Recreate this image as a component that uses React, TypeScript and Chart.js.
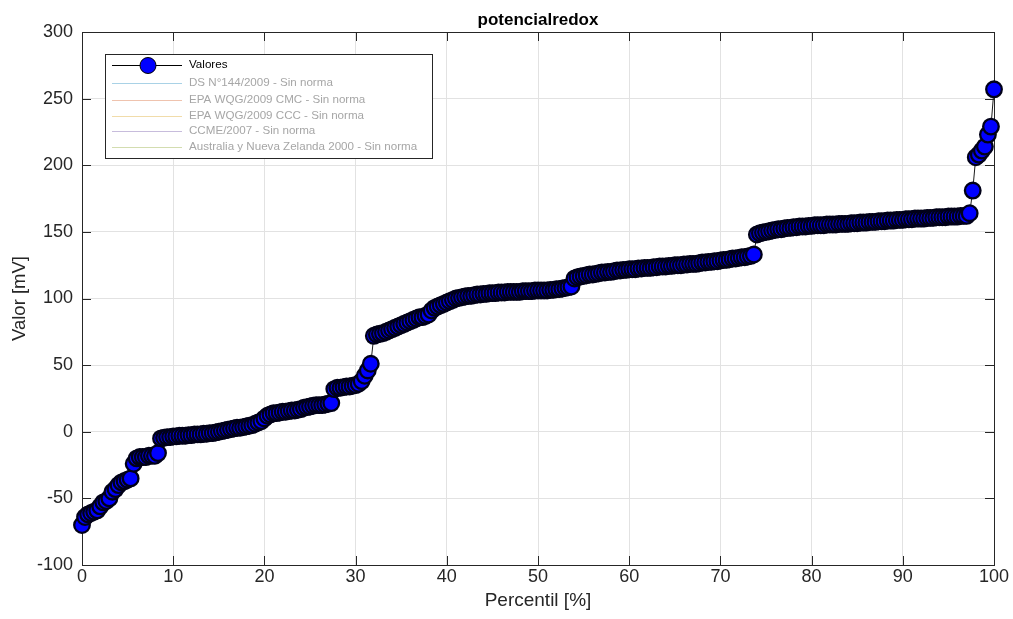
import { useEffect, useRef } from "react";
import { Chart, registerables } from "chart.js";

Chart.register(...registerables);

const chartTitle = "potencialredox";
const xAxisTitle = "Percentil [%]";
const yAxisTitle = "Valor [mV]";
const xTicks = [0, 10, 20, 30, 40, 50, 60, 70, 80, 90, 100];
const yTicks = [-100, -50, 0, 50, 100, 150, 200, 250, 300];
const seriesLabel = "Valores";
const normLabels = [
  "DS N°144/2009 - Sin norma",
  "EPA WQG/2009 CMC - Sin norma",
  "EPA WQG/2009 CCC - Sin norma",
  "CCME/2007 - Sin norma",
  "Australia y Nueva Zelanda 2000 - Sin norma",
];
const normColors = ["#a9d2e6", "#efc3ae", "#f1dcaa", "#c7bcdc", "#d3ddb0"];

const values = [
  -70, -64, -62, -61, -60, -59, -56, -53, -52, -50,
  -45, -43, -40, -38, -37, -36, -35, -24, -20, -19,
  -19, -19, -18, -18, -18, -16, -5, -4.5, -4, -4,
  -3.5, -3.5, -3, -3, -3, -2.5, -2.5, -2, -2, -2,
  -1.5, -1.5, -1, -1, -0.5, 0, 0.5, 1, 1.5, 2,
  2.5, 3, 3, 3.5, 4, 4.5, 5, 6, 7, 8,
  10, 12, 13, 14, 14, 14.5, 15, 15, 15.5, 16,
  16, 16.5, 17, 18, 18.5, 19, 19.5, 20, 20, 20,
  20.5, 21, 21.5, 32, 33, 33, 33.5, 34, 34, 34.5,
  35, 36, 38, 42, 46, 51, 72, 73, 73.5, 74,
  75, 76, 77, 78, 79, 80, 81, 82, 83, 84,
  85, 86, 86, 87, 88, 91, 93, 94, 95, 96,
  97, 98, 99, 100, 100.5, 101, 101.5, 102, 102, 102.5,
  103, 103, 103.5, 103.5, 104, 104, 104, 104.5, 104.5, 104.5,
  105, 105, 105, 105, 105, 105.5, 105.5, 105.5, 105.5, 106,
  106, 106, 106, 106, 106.5, 106.5, 107, 107, 107.5, 108,
  108.5, 109, 115, 116, 116.5, 117, 117.5, 118, 118, 118.5,
  119, 119.5, 119.5, 120, 120, 120.5, 121, 121, 121.5, 121.5,
  122, 122, 122, 122.5, 122.5, 123, 123, 123, 123.5, 123.5,
  124, 124, 124, 124.5, 124.5, 125, 125, 125, 125.5, 125.5,
  126, 126, 126, 126.5, 127, 127, 127.5, 127.5, 128, 128,
  128.5, 129, 129, 129.5, 130, 130, 130.5, 131, 131, 131.5,
  132, 133, 148, 149, 149.5, 150, 150.5, 151, 151.5, 152,
  152, 152.5, 153, 153, 153.5, 153.5, 154, 154, 154, 154.5,
  154.5, 155, 155, 155, 155, 155.5, 155.5, 155.5, 155.5, 156,
  156, 156, 156, 156.5, 156.5, 156.5, 157, 157, 157, 157.5,
  157.5, 157.5, 158, 158, 158, 158.5, 158.5, 158.5, 159, 159,
  159, 159.5, 159.5, 159.5, 160, 160, 160, 160, 160.5, 160.5,
  160.5, 161, 161, 161, 161, 161.5, 161.5, 161.5, 161.5, 162,
  162, 162, 164, 181, 206, 208, 211, 214, 223, 229,
  257,
];

const FONT = "'Liberation Sans', Arial, Helvetica, sans-serif";

const frame = {
  id: "frame",
  beforeDatasetsDraw(chart: any) {
    const { ctx, chartArea: a, scales } = chart;
    ctx.save();
    ctx.strokeStyle = "#262626";
    ctx.lineWidth = 1;
    ctx.strokeRect(Math.round(a.left) + 0.5, Math.round(a.top) + 0.5, Math.round(a.right - a.left), Math.round(a.bottom - a.top));
    const tl = 9;
    ctx.beginPath();
    for (const v of xTicks) {
      const x = Math.round(scales.x.getPixelForValue(v)) + 0.5;
      ctx.moveTo(x, a.bottom);
      ctx.lineTo(x, a.bottom - tl);
      ctx.moveTo(x, a.top);
      ctx.lineTo(x, a.top + tl);
    }
    for (const v of yTicks) {
      const y = Math.round(scales.y.getPixelForValue(v)) + 0.5;
      ctx.moveTo(a.left, y);
      ctx.lineTo(a.left + tl, y);
      ctx.moveTo(a.right, y);
      ctx.lineTo(a.right - tl, y);
    }
    ctx.stroke();
    ctx.fillStyle = "#000";
    ctx.font = `bold 17px ${FONT}`;
    ctx.textAlign = "center";
    ctx.textBaseline = "middle";
    ctx.fillText(chartTitle, (a.left + a.right) / 2, 20);
    ctx.restore();
  },
};

const legendBox = {
  id: "legendBox",
  afterDatasetsDraw(chart: any) {
    const { ctx } = chart;
    const bx = 105, by = 54, bw = 327, bh = 104;
    ctx.save();
    ctx.fillStyle = "#fff";
    ctx.fillRect(bx, by, bw, bh);
    ctx.strokeStyle = "#262626";
    ctx.lineWidth = 1;
    ctx.strokeRect(bx + 0.5, by + 0.5, bw, bh);
    const rows = [65, 83, 99.5, 115.5, 131, 147];
    const x0 = 112, x1 = 182, tx = 189;
    ctx.font = `11.6px ${FONT}`;
    ctx.textBaseline = "middle";
    ctx.textAlign = "left";
    ctx.strokeStyle = "#000";
    ctx.beginPath();
    ctx.moveTo(x0, rows[0] + 0.5);
    ctx.lineTo(x1, rows[0] + 0.5);
    ctx.stroke();
    ctx.beginPath();
    ctx.arc(148, rows[0] + 0.5, 8, 0, Math.PI * 2);
    ctx.fillStyle = "#0000ff";
    ctx.fill();
    ctx.strokeStyle = "#000";
    ctx.stroke();
    ctx.fillStyle = "#000";
    ctx.fillText(seriesLabel, tx, rows[0]);
    normLabels.forEach((lab, i) => {
      const y = rows[i + 1];
      ctx.strokeStyle = normColors[i];
      ctx.beginPath();
      ctx.moveTo(x0, Math.round(y) + 0.5);
      ctx.lineTo(x1, Math.round(y) + 0.5);
      ctx.stroke();
      ctx.fillStyle = "#a6a6a6";
      ctx.fillText(lab, tx, y);
    });
    ctx.restore();
  },
};

export default function App() {
  const ref = useRef<HTMLCanvasElement | null>(null);
  useEffect(() => {
    document.body.style.margin = "0";
    const percentiles = values.map((_, i) => (i * 100) / (values.length - 1));
    const chart = new Chart(ref.current as HTMLCanvasElement, {
      type: "line",
      data: {
        datasets: [
          {
            label: seriesLabel,
            data: values.map((v, i) => ({ x: percentiles[i], y: v })),
            borderColor: "#1a1a1a",
            borderWidth: 1,
            pointRadius: 7.8,
            pointBackgroundColor: "#0000ff",
            pointBorderColor: "#000018",
            pointBorderWidth: 2.3,
            tension: 0,
            clip: false as any,
          },
        ],
      },
      options: {
        animation: false,
        responsive: false,
        events: [],
        layout: { padding: { top: 32, right: 19, left: 0, bottom: 0 } },
        plugins: {
          legend: { display: false },
          title: { display: false },
          tooltip: { enabled: false },
        },
        scales: {
          x: {
            type: "linear",
            min: 0,
            max: 100,
            afterBuildTicks: (s: any) => {
              s.ticks = xTicks.map((v) => ({ value: v }));
            },
            afterFit: (s: any) => {
              s.height = 54;
            },
            grid: { color: "#e2e2e2", drawTicks: false },
            border: { display: true, color: "#262626" },
            ticks: {
              font: { family: FONT, size: 18 },
              color: "#262626",
              padding: 1,
              maxRotation: 0,
            },
            title: {
              display: true,
              text: xAxisTitle,
              font: { family: FONT, size: 19 },
              color: "#262626",
              padding: { top: 0, bottom: 7 },
            },
          },
          y: {
            type: "linear",
            min: -100,
            max: 300,
            afterBuildTicks: (s: any) => {
              s.ticks = yTicks.map((v) => ({ value: v }));
            },
            afterFit: (s: any) => {
              s.width = 82;
            },
            grid: { color: "#e2e2e2", drawTicks: false },
            border: { display: true, color: "#262626" },
            ticks: {
              font: { family: FONT, size: 18 },
              color: "#262626",
              padding: 9,
            },
            title: {
              display: true,
              text: yAxisTitle,
              font: { family: FONT, size: 18.5 },
              color: "#262626",
              padding: { top: 9, bottom: 0 },
            },
          },
        },
      },
      plugins: [frame, legendBox],
    });
    return () => chart.destroy();
  }, []);
  return (
    <div style={{ width: 1013, height: 619 }}>
      <canvas ref={ref} width={1013} height={619} style={{ display: "block" }} />
    </div>
  );
}
